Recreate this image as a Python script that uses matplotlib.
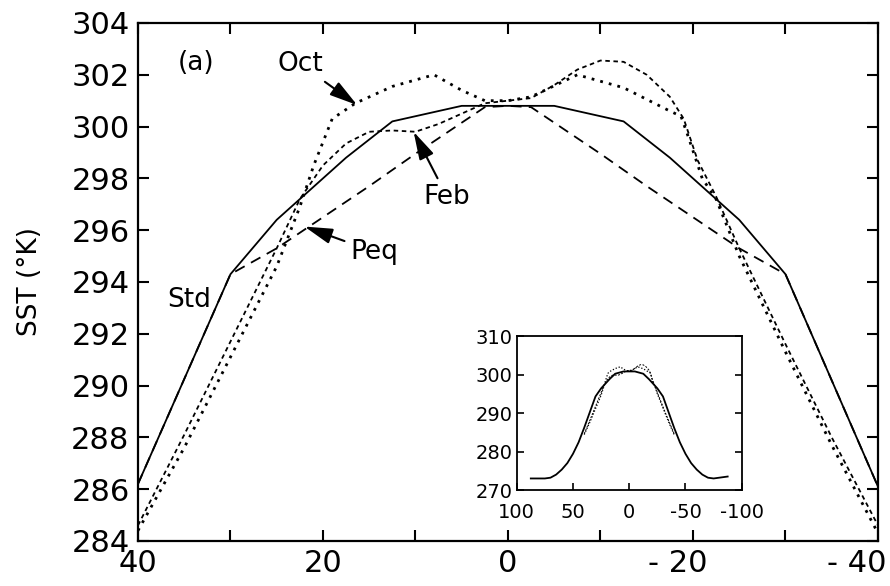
import matplotlib
matplotlib.use("Agg")
import matplotlib.pyplot as plt
import matplotlib.transforms as mtransforms

# latitude (deg) and SST (K)
std_lat = [40, 30, 25, 17.5, 12.5, 5, 0, -5, -12.5, -17.5, -25, -30, -40]
std_sst = [286.2, 294.3, 296.4, 298.8, 300.2, 300.8, 300.8, 300.8, 300.2, 298.8, 296.4, 294.3, 286.1]

peq_lat = [40, 30, 25, 20, 15, 10, 5, 2.5, 0, -2.5, -5, -10, -15, -20, -25, -30, -40]
peq_sst = [286.2, 294.3, 295.3, 296.5, 297.7, 298.95, 300.15, 300.75, 300.8,
           300.75, 300.15, 298.95, 297.7, 296.5, 295.3, 294.3, 286.1]

oct_lat = [40, 35, 30, 25, 22.5, 21, 19, 16.5, 12.5, 8, 5, 2.5, 0,
           -2.5, -7.5, -12.5, -15, -17.5, -18.7, -19.5, -21, -22.5, -25, -30, -35, -40]
oct_sst = [284.4, 287.6, 291.1, 294.6, 296.9, 298.5, 300.3, 300.9, 301.55, 302.0, 301.4, 301.0, 301.0,
           301.15, 302.0, 301.5, 301.05, 300.6, 300.4, 299.6, 298.0, 297.2, 295.0, 291.3, 287.7, 284.3]

feb_lat = [40, 35, 30, 25, 22.5, 20, 17.5, 15, 12.5, 10, 7.5, 5, 2.5, 0,
           -2.5, -5, -7.5, -10, -12.5, -15, -17.5, -19, -20.5, -22.5, -25, -30, -35, -40]
feb_sst = [284.6, 288.1, 291.7, 295.3, 297.2, 298.5, 299.35, 299.8, 299.85, 299.8, 300.1, 300.5, 300.9, 301.0,
           301.1, 301.6, 302.2, 302.55, 302.5, 302.0, 301.15, 300.3, 298.7, 297.3, 295.3, 291.6, 288.0, 284.6]

# global Std profile for the inset
ins_lat = [87.5, 75, 70, 65, 60, 55, 50, 45, 40, 30, 25, 17.5, 12.5, 5, 0,
           -5, -12.5, -17.5, -25, -30, -40, -45, -50, -55, -60, -65, -70, -75, -87.5]
ins_sst = [273.0, 273.0, 273.2, 274.0, 275.3, 277.0, 279.4, 282.4, 286.2, 294.3, 296.4, 298.8, 300.2, 300.8, 300.8,
           300.8, 300.2, 298.8, 296.4, 294.3, 286.1, 282.4, 279.4, 277.0, 275.3, 274.0, 273.2, 273.0, 273.5]

fig = plt.figure(figsize=(8.9, 5.86), dpi=100)
ax = fig.add_axes([0.155, 0.0768, 0.8315, 0.884])

ax.plot(std_lat, std_sst, color="black", lw=1.3, ls="-")
ax.plot(peq_lat, peq_sst, color="black", lw=1.3, ls=(0, (6, 4)))
ax.plot(feb_lat, feb_sst, color="black", lw=1.3, ls=(0, (2.5, 2)))
ax.plot(oct_lat, oct_sst, color="black", lw=2.0, ls=(0, (1, 2.2)))

ax.set_xlim(40, -40)
ax.set_ylim(284, 304)
ax.set_xticks([40, 30, 20, 10, 0, -10, -20, -30, -40])
ax.set_xticklabels(["40", "", "20", "", "0", "", "- 20", "", "- 40"])
ax.set_yticks(range(284, 305, 2))
ax.tick_params(direction="in", top=True, right=True, length=8, width=1.5,
               labelsize=22, pad=6)
# negative labels: digits sit over the tick, the minus hangs left
labs = ax.get_xticklabels()
for lab, dx in [(labs[6], 15), (labs[8], 9)]:
    lab.set_ha("right")
    lab.set_transform(lab.get_transform() +
                      mtransforms.ScaledTranslation(dx / 100, 0, fig.dpi_scale_trans))
for s in ax.spines.values():
    s.set_linewidth(1.6)
ax.set_ylabel("SST (\u00b0K)", fontsize=19, labelpad=20)

ax.text(33.7, 302.45, "(a)", fontsize=19, ha="center", va="center")
ax.text(34.5, 293.3, "Std", fontsize=19, ha="center", va="center")

arrow = dict(arrowstyle="-|>,head_length=0.9,head_width=0.25", color="black",
             lw=1.5, shrinkA=2, shrinkB=0)
ax.annotate("Oct", xy=(16.3, 300.83), xytext=(22.4, 302.4), fontsize=19,
            ha="center", va="center", arrowprops=arrow)
ax.annotate("Feb", xy=(10.2, 299.8), xytext=(6.6, 297.3), fontsize=19,
            ha="center", va="center", arrowprops=arrow)
ax.annotate("Peq", xy=(22.0, 296.14), xytext=(14.5, 295.17), fontsize=19,
            ha="center", va="center", arrowprops=arrow)

# inset with the global profile
ins = fig.add_axes([0.5806, 0.1638, 0.2528, 0.2628])
ins.plot(ins_lat, ins_sst, color="black", lw=1.3)
ins.plot(oct_lat, oct_sst, color="black", lw=0.9, ls=(0, (1, 1.5)))
ins.plot(feb_lat, feb_sst, color="black", lw=0.7, ls=(0, (2, 1.5)))
ins.set_xlim(100, -100)
ins.set_ylim(270, 310)
ins.set_xticks([100, 50, 0, -50, -100])
ins.set_xticklabels(["100", "50", "0", "-50", "-100"])
ins.set_yticks([270, 280, 290, 300, 310])
ins.tick_params(direction="in", right=True, length=5, width=1.2, labelsize=14, pad=3)
ins.tick_params(axis="x", pad=9)
for s in ins.spines.values():
    s.set_linewidth(1.3)

fig.savefig("out.png", dpi=100)
